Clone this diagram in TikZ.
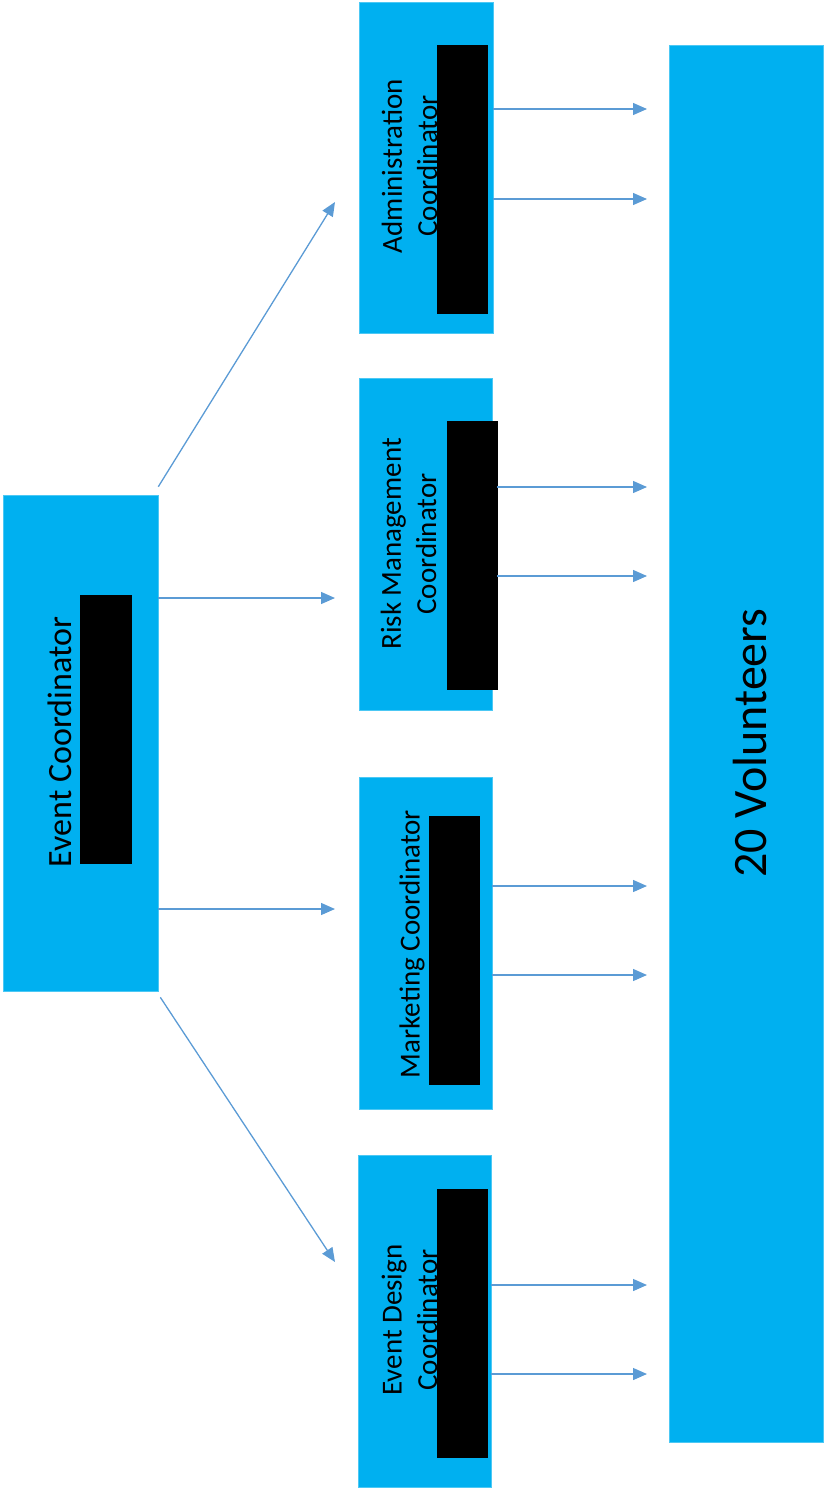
\documentclass[tikz,border=0pt]{standalone}
\usepackage{fontspec}
\setmainfont{Carlito}
\usetikzlibrary{arrows.meta}
\definecolor{boxblue}{HTML}{00B0F0}
\definecolor{arrowblue}{HTML}{5B9BD5}
\tikzset{
  bluebox/.style={draw=boxblue!70!white, line width=0.6pt, fill=boxblue, rectangle, inner sep=0pt},
  redact/.style={fill=black, draw=black, rectangle, inner sep=0pt},
  lbl/.style={rotate=90, align=center, inner sep=0pt, text=black, font=\fontsize{29}{35.4}\selectfont},
  arr/.style={draw=arrowblue, line width=1.3pt, -{Triangle[length=14pt,width=12pt]}}
}
\begin{document}
\begin{tikzpicture}[x=1pt,y=-1pt]
\useasboundingbox (0,0) rectangle (823,1488);
% boxes
\node[bluebox, minimum width=155pt, minimum height=496pt] (ec) at (80.5,743) {};
\node[bluebox, minimum width=134pt, minimum height=331pt] (adm) at (426,167.5) {};
\node[bluebox, minimum width=133pt, minimum height=332pt] (risk) at (425.5,544) {};
\node[bluebox, minimum width=133pt, minimum height=332pt] (mkt) at (425.5,943) {};
\node[bluebox, minimum width=133pt, minimum height=332pt] (des) at (424.5,1321) {};
\node[bluebox, minimum width=154pt, minimum height=1397pt] (vol) at (746,743.5) {};
% labels
\node[lbl, font=\fontsize{34}{41}\selectfont] (ect) at (60,742) {Event Coordinator};
\node[lbl] (admt) at (409.5,166) {Administration\\Coordinator};
\node[lbl] (riskt) at (408.5,544) {Risk Management\\Coordinator};
\node[lbl] (mktt) at (412,944) {Marketing Coordinator};
\node[lbl] (dest) at (409.5,1320) {Event Design\\Coordinator};
\node[lbl, font=\fontsize{48}{58}\selectfont] (volt) at (750,743) {20 Volunteers};
% redactions
\node[redact, minimum width=51pt, minimum height=268pt] (ecr) at (105.5,729) {};
\node[redact, minimum width=50pt, minimum height=268pt] (admr) at (462,179) {};
\node[redact, minimum width=50pt, minimum height=268pt] (riskr) at (472,555) {};
\node[redact, minimum width=50pt, minimum height=268pt] (mktr) at (454,950.5) {};
\node[redact, minimum width=50pt, minimum height=268pt] (desr) at (462,1323) {};
% free ends
\coordinate (e1) at (335,202);
\coordinate (e2) at (335,598);
\coordinate (e3) at (335,909);
\coordinate (e4) at (335,1262);
\coordinate (v1) at (647,109);
\coordinate (v2) at (647,199);
\coordinate (v3) at (647,487);
\coordinate (v4) at (647,576);
\coordinate (v5) at (647,886);
\coordinate (v6) at (647,975);
\coordinate (v7) at (647,1285);
\coordinate (v8) at (647,1374);
% arrows from event coordinator
\draw[arr] (ec.north east) ++(0,-8) -- (e1);
\draw[arr] (ec.east |- e2) -- (e2);
\draw[arr] (ec.east |- e3) -- (e3);
\draw[arr] (ec.south east) ++(2,6) -- (e4);
% arrows to volunteers
\draw[arr] (adm.east |- v1) -- (v1);
\draw[arr] (adm.east |- v2) -- (v2);
\draw[arr] (riskr.east |- v3) -- (v3);
\draw[arr] (riskr.east |- v4) -- (v4);
\draw[arr] (mkt.east |- v5) -- (v5);
\draw[arr] (mkt.east |- v6) -- (v6);
\draw[arr] (des.east |- v7) -- (v7);
\draw[arr] (des.east |- v8) -- (v8);
\end{tikzpicture}
\end{document}
